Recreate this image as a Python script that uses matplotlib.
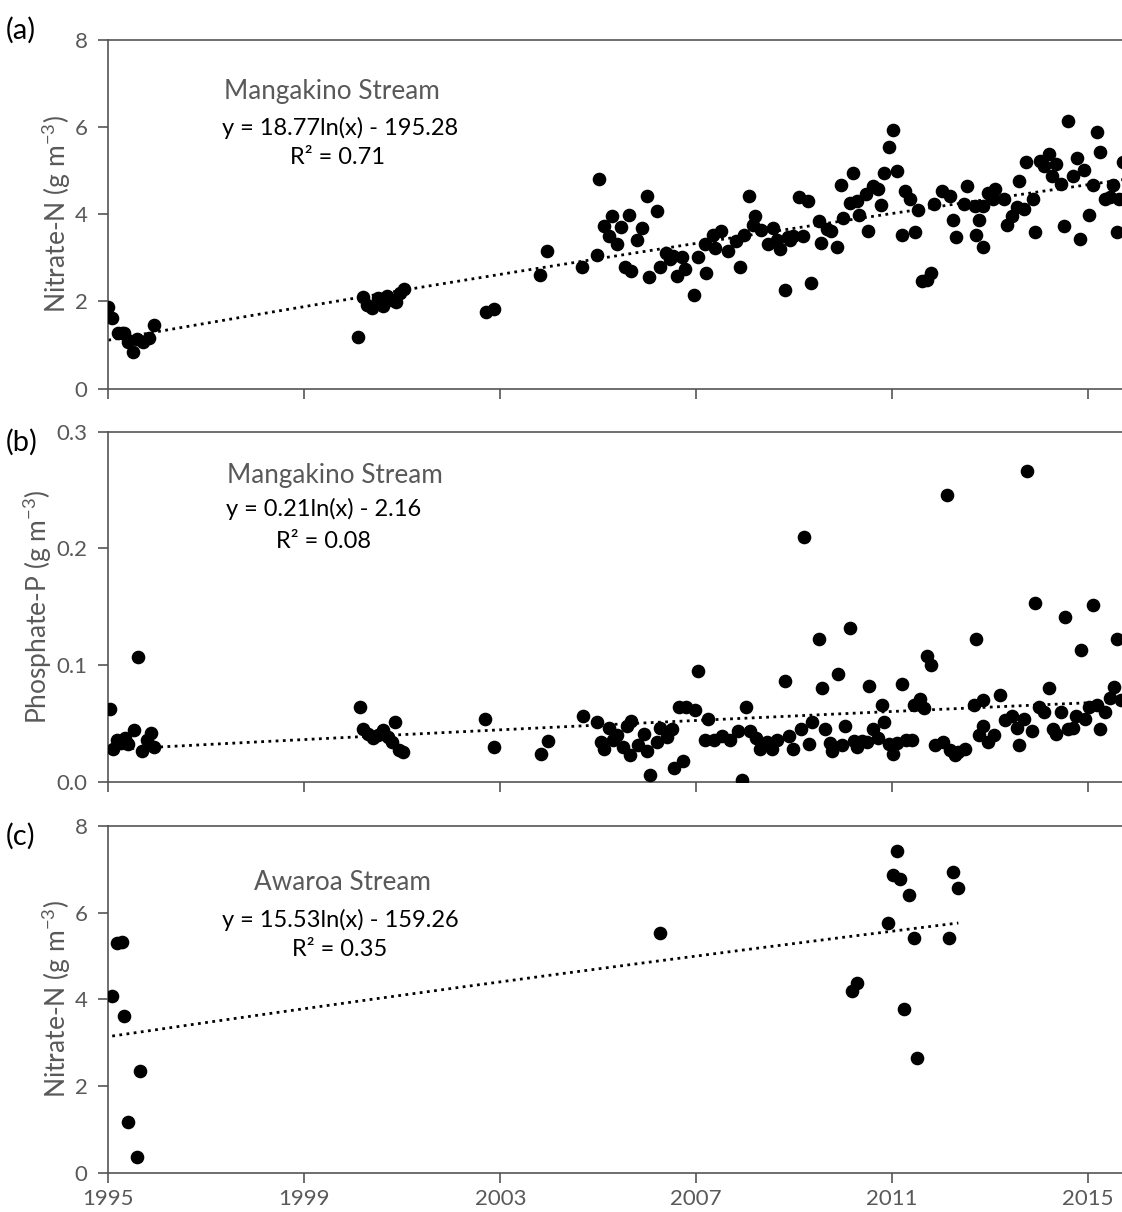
import numpy as np
import matplotlib
matplotlib.use("Agg")
import matplotlib.pyplot as plt

plt.rcParams['font.family'] = ['Lato', 'DejaVu Sans']
plt.rcParams['mathtext.default'] = 'regular'

# ---- Mangakino Stream, nitrate-N (g m-3) ----
mn_year = [1995.00, 1995.08, 1995.19, 1995.27, 1995.33, 1995.41, 1995.51, 1995.58, 1995.71, 1995.83, 1995.93,
           2000.10, 2000.20, 2000.28, 2000.38, 2000.50, 2000.61, 2000.69, 2000.79, 2000.87, 2000.95, 2001.04,
           2002.71, 2002.87, 2003.81, 2003.95,
           2004.66, 2004.97, 2005.02, 2005.12, 2005.22, 2005.29, 2005.38, 2005.46, 2005.55, 2005.63, 2005.67,
           2005.80, 2005.90, 2006.00, 2006.04, 2006.19, 2006.27, 2006.38, 2006.46, 2006.53, 2006.61, 2006.70,
           2006.78, 2006.95, 2007.03, 2007.18, 2007.20, 2007.35, 2007.38, 2007.50, 2007.65, 2007.82, 2007.89,
           2007.98, 2008.08, 2008.15, 2008.20, 2008.33, 2008.47, 2008.56, 2008.64, 2008.71, 2008.81, 2008.88,
           2008.91, 2008.97, 2009.10, 2009.18, 2009.29, 2009.35, 2009.51, 2009.54, 2009.66, 2009.76, 2009.87,
           2009.95, 2010.00, 2010.14, 2010.20, 2010.29, 2010.33, 2010.46, 2010.51, 2010.61, 2010.71, 2010.78,
           2010.84, 2010.93, 2011.02, 2011.09, 2011.19, 2011.26, 2011.36, 2011.46, 2011.53, 2011.60, 2011.70,
           2011.79, 2011.85, 2012.01, 2012.18, 2012.25, 2012.31, 2012.46, 2012.53, 2012.69, 2012.71, 2012.78,
           2012.86, 2012.86, 2012.95, 2013.05, 2013.10, 2013.29, 2013.35, 2013.44, 2013.54, 2013.59, 2013.69,
           2013.74, 2013.88, 2013.92, 2014.01, 2014.10, 2014.19, 2014.27, 2014.34, 2014.44, 2014.51, 2014.59,
           2014.69, 2014.77, 2014.84, 2014.91, 2015.01, 2015.09, 2015.17, 2015.24, 2015.34, 2015.44, 2015.51,
           2015.59, 2015.63, 2015.71]
mn_value = [1.87, 1.62, 1.27, 1.28, 1.27, 1.06, 0.83, 1.13, 1.08, 1.16, 1.46,
            1.18, 2.10, 1.92, 1.85, 2.07, 1.90, 2.12, 2.03, 1.98, 2.19, 2.28,
            1.76, 1.83, 2.61, 3.16,
            2.78, 3.07, 4.81, 3.74, 3.51, 3.97, 3.32, 3.71, 2.79, 3.99, 2.69,
            3.40, 3.68, 4.41, 2.55, 4.08, 2.78, 3.12, 2.97, 3.05, 2.59, 3.03,
            2.74, 2.15, 3.03, 3.32, 2.66, 3.53, 3.23, 3.62, 3.16, 3.39, 2.78,
            3.53, 4.41, 3.76, 3.97, 3.65, 3.32, 3.68, 3.42, 3.20, 2.27, 3.49,
            3.42, 3.51, 4.39, 3.51, 4.31, 2.43, 3.84, 3.34, 3.66, 3.61, 3.26,
            4.68, 3.91, 4.26, 4.95, 4.31, 3.99, 4.47, 3.62, 4.64, 4.58, 4.22,
            4.95, 5.54, 5.93, 5.00, 3.53, 4.54, 4.34, 3.59, 4.11, 2.46, 2.50,
            2.66, 4.24, 4.54, 4.41, 3.88, 3.49, 4.24, 4.66, 4.20, 3.53, 3.88,
            3.26, 4.18, 4.50, 4.34, 4.58, 4.35, 3.76, 3.95, 4.16, 4.76, 4.12,
            5.20, 4.35, 3.59, 5.22, 5.10, 5.39, 4.89, 5.16, 4.70, 3.74, 6.14,
            4.89, 5.29, 3.43, 5.01, 3.99, 4.68, 5.88, 5.43, 4.35, 4.39, 4.68,
            3.59, 4.34, 5.20]

# ---- Mangakino Stream, phosphate-P (g m-3) ----
mp_year = [1995.03, 1995.10, 1995.17, 1995.26, 1995.34, 1995.41, 1995.53, 1995.60, 1995.68, 1995.78, 1995.87, 1995.94,
           2000.14, 2000.20, 2000.31, 2000.40, 2000.50, 2000.61, 2000.71, 2000.79, 2000.86, 2000.94, 2001.02,
           2002.69, 2002.87, 2003.84, 2003.98,
           2004.69, 2004.98, 2005.05, 2005.12, 2005.22, 2005.31, 2005.39, 2005.50, 2005.58, 2005.65, 2005.67,
           2005.82, 2005.93, 2006.00, 2006.06, 2006.20, 2006.27, 2006.41, 2006.51, 2006.55, 2006.65, 2006.73,
           2006.79, 2006.97, 2007.03, 2007.18, 2007.23, 2007.36, 2007.53, 2007.69, 2007.86, 2007.93, 2008.01,
           2008.10, 2008.22, 2008.30, 2008.44, 2008.55, 2008.64, 2008.81, 2008.90, 2008.97, 2009.14, 2009.20,
           2009.31, 2009.36, 2009.51, 2009.56, 2009.63, 2009.73, 2009.78, 2009.89, 2009.97, 2010.04, 2010.14,
           2010.22, 2010.29, 2010.38, 2010.48, 2010.53, 2010.61, 2010.71, 2010.79, 2010.84, 2010.94, 2011.02,
           2011.10, 2011.19, 2011.29, 2011.40, 2011.45, 2011.56, 2011.65, 2011.71, 2011.79, 2011.87, 2012.04,
           2012.11, 2012.18, 2012.28, 2012.35, 2012.48, 2012.67, 2012.72, 2012.78, 2012.85, 2012.86, 2012.96,
           2013.08, 2013.20, 2013.30, 2013.44, 2013.54, 2013.59, 2013.69, 2013.76, 2013.86, 2013.92, 2014.00,
           2014.10, 2014.19, 2014.29, 2014.34, 2014.44, 2014.52, 2014.59, 2014.69, 2014.76, 2014.85, 2014.93,
           2015.02, 2015.09, 2015.17, 2015.25, 2015.34, 2015.44, 2015.53, 2015.59, 2015.66]
mp_value = [0.062, 0.028, 0.036, 0.033, 0.037, 0.032, 0.044, 0.107, 0.026, 0.036, 0.042, 0.030,
            0.064, 0.045, 0.041, 0.037, 0.040, 0.044, 0.038, 0.034, 0.051, 0.027, 0.025,
            0.054, 0.030, 0.024, 0.035,
            0.056, 0.051, 0.034, 0.028, 0.046, 0.036, 0.040, 0.030, 0.048, 0.023, 0.052,
            0.031, 0.041, 0.026, 0.006, 0.034, 0.046, 0.038, 0.045, 0.012, 0.064, 0.018,
            0.064, 0.061, 0.095, 0.036, 0.054, 0.036, 0.039, 0.036, 0.043, 0.001, 0.064,
            0.043, 0.037, 0.028, 0.034, 0.028, 0.036, 0.086, 0.039, 0.028, 0.045, 0.210,
            0.032, 0.051, 0.122, 0.080, 0.045, 0.033, 0.026, 0.092, 0.031, 0.048, 0.132,
            0.035, 0.030, 0.035, 0.034, 0.082, 0.045, 0.037, 0.066, 0.051, 0.032, 0.024,
            0.033, 0.084, 0.036, 0.036, 0.066, 0.071, 0.063, 0.108, 0.100, 0.031, 0.034,
            0.246, 0.027, 0.023, 0.025, 0.028, 0.066, 0.122, 0.040, 0.048, 0.070, 0.034,
            0.040, 0.074, 0.053, 0.056, 0.046, 0.031, 0.054, 0.266, 0.043, 0.153, 0.064,
            0.060, 0.080, 0.045, 0.041, 0.060, 0.141, 0.045, 0.046, 0.056, 0.113, 0.054,
            0.064, 0.151, 0.066, 0.045, 0.060, 0.072, 0.081, 0.122, 0.070]

# ---- Awaroa Stream, nitrate-N (g m-3) ----
aw_year = [1995.08, 1995.17, 1995.27, 1995.33, 1995.40, 1995.58, 1995.65,
           2006.26, 2010.18, 2010.29, 2010.91, 2011.01, 2011.09, 2011.16, 2011.24, 2011.34,
           2011.44, 2011.51, 2012.16, 2012.25, 2012.35]
aw_value = [4.08, 5.31, 5.33, 3.61, 1.18, 0.36, 2.35,
            5.53, 4.19, 4.37, 5.75, 6.87, 7.42, 6.77, 3.77, 6.41,
            5.41, 2.64, 5.41, 6.93, 6.56]

year_ticks = [1995, 1999, 2003, 2007, 2011, 2015]

TXT = '#595959'
AX = '#555555'


def to_serial(t):
    """Decimal year -> spreadsheet serial day number."""
    return 25569.0 + (np.asarray(t, float) - 1970.0) * 365.25


def style(ax, ylim, yticks, fmt, show_x):
    ax.set_xlim(1995, 2015.69)
    ax.set_ylim(*ylim)
    ax.set_yticks(yticks)
    ax.set_yticklabels([fmt.format(v) for v in yticks])
    ax.set_xticks(year_ticks)
    ax.spines['right'].set_visible(False)
    for s in ('left', 'bottom', 'top'):
        ax.spines[s].set_color(AX)
        ax.spines[s].set_linewidth(1.2)
    ax.tick_params(axis='both', direction='out', length=7, width=1.2, color=AX,
                   labelcolor=TXT, labelsize=16, pad=8)
    ax.tick_params(axis='x', labelbottom=show_x, pad=5)


def draw(ax, yr, val):
    yr = np.asarray(yr, float)
    val = np.asarray(val, float)
    ax.plot(yr, val, 'o', color='black', markersize=8.8, zorder=3)
    a, b = np.polyfit(np.log(to_serial(yr)), val, 1)
    tt = np.linspace(yr.min(), yr.max(), 300)
    ax.plot(tt, a * np.log(to_serial(tt)) + b, color='black', lw=2.0,
            linestyle=(0, (1, 1.6)), zorder=2)


W, H = 1122, 1212
fig = plt.figure(figsize=(W / 100, H / 100), dpi=100)
left = 108.3 / W


def add(top_px, bot_px):
    return fig.add_axes([left, 1 - bot_px / H, 1 - left, (bot_px - top_px) / H])


ax_a = add(40.0, 388.6)
ax_b = add(431.5, 781.5)
ax_c = add(825.9, 1172.7)

draw(ax_a, mn_year, mn_value)
draw(ax_b, mp_year, mp_value)
draw(ax_c, aw_year, aw_value)

style(ax_a, (0, 8), [0, 2, 4, 6, 8], '{:g}', False)
style(ax_b, (0, 0.3), [0.0, 0.1, 0.2, 0.3], '{:.1f}', False)
style(ax_c, (0, 8), [0, 2, 4, 6, 8], '{:g}', True)

ylab_n = 'Nitrate-N (g m$^{-3}$)'
ylab_p = 'Phosphate-P (g m$^{-3}$)'
ax_a.set_ylabel(ylab_n, color=TXT, fontsize=19)
ax_b.set_ylabel(ylab_p, color=TXT, fontsize=19)
ax_c.set_ylabel(ylab_n, color=TXT, fontsize=19)
for ax, xpos in ((ax_a, 73), (ax_b, 54), (ax_c, 73)):
    ax.yaxis.set_label_coords((xpos - 108.3) / (W - 108.3), 0.5)


def fx(px):
    return (px - 108.3) / (W - 108.3)


def annotate(ax, top_px, bot_px, lines):
    for text, cx, cy, size, col in lines:
        ax.text(fx(cx), (bot_px - cy) / (bot_px - top_px), text, transform=ax.transAxes,
                ha='center', va='center', color=col, fontsize=size)


annotate(ax_a, 40.0, 388.6, [('Mangakino Stream', 332, 91, 18.8, TXT),
                             ('y = 18.77ln(x) - 195.28', 340, 128, 17, 'black'),
                             ('R² = 0.71', 338, 158, 17, 'black')])
annotate(ax_b, 431.5, 781.5, [('Mangakino Stream', 335, 476, 18.8, TXT),
                              ('y = 0.21ln(x) - 2.16', 324, 509, 17, 'black'),
                              ('R² = 0.08', 324, 541, 17, 'black')])
annotate(ax_c, 825.9, 1172.7, [('Awaroa Stream', 342, 883, 18.8, TXT),
                               ('y = 15.53ln(x) - 159.26', 340, 920, 17, 'black'),
                               ('R² = 0.35', 340, 950, 17, 'black')])

for lab, cy in (('(a)', 30), ('(b)', 442), ('(c)', 836)):
    fig.text(6 / W, 1 - cy / H, lab, ha='left', va='center', fontsize=21, color='black')

fig.savefig('out.png', dpi=100)
